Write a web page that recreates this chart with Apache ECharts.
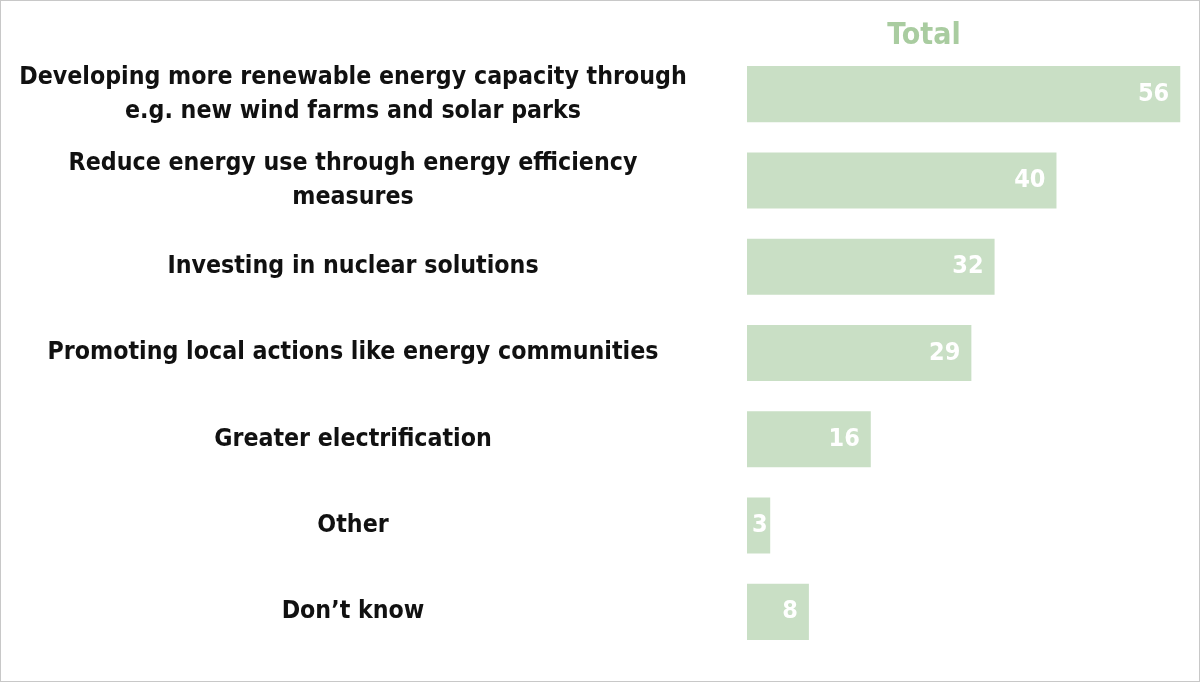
<!DOCTYPE html>
<html>
<head>
<meta charset="utf-8">
<script src="https://cdn.jsdelivr.net/npm/echarts@6/dist/echarts.min.js"></script>
<style>
html,body{margin:0;padding:0;background:#fff;}
#c{width:1200px;height:682px;box-sizing:border-box;border:1px solid #c8c8c8;}
</style>
</head>
<body>
<div id="c"></div>
<script>
const categories = [
  "Developing more renewable energy capacity through\ne.g. new wind farms and solar parks",
  "Reduce energy use through energy efficiency\nmeasures",
  "Investing in nuclear solutions",
  "Promoting local actions like energy communities",
  "Greater electrification",
  "Other",
  "Don\u2019t know"
];
const totalValues = [56, 40, 32, 29, 16, 3, 8];
const seriesName = "Total";

const FONT = "'DejaVu Sans Condensed', 'DejaVu Sans', sans-serif";
const chart = echarts.init(document.getElementById('c'), null, {renderer: 'canvas'});

const barData = totalValues.map(v => v < 5
  ? {value: v, label: {position: 'insideLeft', distance: 5}}
  : v);

chart.setOption({
  animation: false,
  grid: {left: 746, right: 11, top: 50, bottom: 26, containLabel: false},
  graphic: [{
    type: 'text', x: 923, y: 20,
    style: {text: seriesName, fill: '#a9cca0', font: 'bold 30px ' + FONT, textAlign: 'center'}
  }],
  xAxis: {type: 'value', min: 0, max: 57, show: false},
  yAxis: {
    type: 'category', data: categories, inverse: true,
    axisLine: {show: false}, axisTick: {show: false},
    axisLabel: {
      align: 'center', margin: 394, color: '#111',
      fontFamily: FONT, fontWeight: 'bold', fontSize: 24.7, lineHeight: 34
    }
  },
  series: [{
    name: seriesName, type: 'bar', data: barData,
    barCategoryGap: '35%',
    itemStyle: {color: '#c9dfc5'},
    label: {
      show: true, position: 'insideRight', distance: 11,
      color: '#fff', fontFamily: FONT, fontWeight: 'bold', fontSize: 25
    }
  }]
});
</script>
</body>
</html>
